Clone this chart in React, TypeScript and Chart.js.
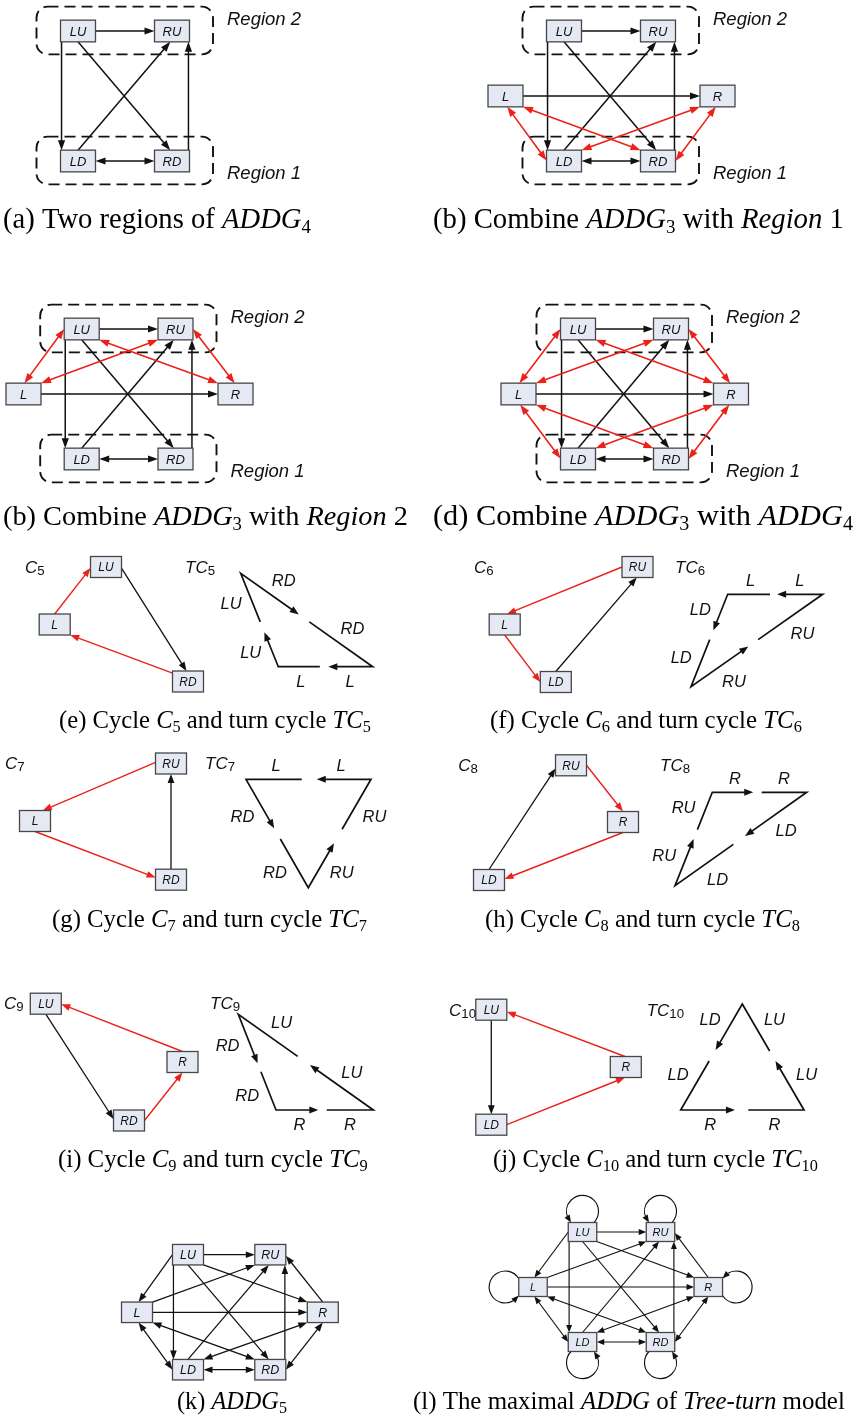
import { useEffect, useRef } from 'react';
import { Chart, registerables } from 'chart.js';

Chart.register(...registerables);

const PAGE_W = 859;
const PAGE_H = 1424;

type NodeRow = [string, number, number];
type Anchor = [number, number];
type EdgeRow = [string, Anchor, string, Anchor, number];
type Pt = [number, number];
type Run = [string, string];

// ---- node centres of every diagram (page units) ----
const nodesA: NodeRow[] = [['LU', 78, 31], ['RU', 172, 31], ['LD', 78, 161], ['RD', 172, 161]];
const nodesB: NodeRow[] = [['LU', 564, 31], ['RU', 658, 31], ['L', 505.5, 96], ['R', 717.5, 96], ['LD', 564, 161], ['RD', 658, 161]];
const nodesC: NodeRow[] = [['LU', 81.7, 329], ['RU', 175.5, 329], ['L', 23.5, 394], ['R', 235.5, 394], ['LD', 81.7, 459], ['RD', 175.5, 459]];
const nodesD: NodeRow[] = [['LU', 578, 329], ['RU', 671, 329], ['L', 518.5, 394], ['R', 731, 394], ['LD', 578, 459], ['RD', 671, 459]];
const nodesE: NodeRow[] = [['LU', 106, 567], ['L', 54.7, 624.5], ['RD', 188, 681.5]];
const nodesF: NodeRow[] = [['RU', 637.5, 567], ['L', 504.7, 624.5], ['LD', 555.8, 682]];
const nodesG: NodeRow[] = [['RU', 171, 763.5], ['L', 35, 821], ['RD', 171, 879.7]];
const nodesH: NodeRow[] = [['RU', 571, 765.3], ['R', 623, 822], ['LD', 489, 880]];
const nodesI: NodeRow[] = [['LU', 45.8, 1003.7], ['R', 182.5, 1062], ['RD', 129, 1120.5]];
const nodesJ: NodeRow[] = [['LU', 491.3, 1009.7], ['R', 625.8, 1067], ['LD', 491.3, 1124.7]];
const nodesK: NodeRow[] = [['LU', 188, 1254.7], ['RU', 270.3, 1254.7], ['L', 137, 1312.3], ['R', 322.8, 1312.3], ['LD', 188, 1369.7], ['RD', 270.3, 1369.7]];
const nodesL: NodeRow[] = [['LU', 582.5, 1232], ['RU', 660.5, 1232], ['L', 533, 1287], ['R', 708.3, 1287], ['LD', 582.5, 1342], ['RD', 660.5, 1342]];

// ---- edges: [from, anchor on from-box, to, anchor on to-box, heads (1 = end, 2 = both)] ----
const addg4Edges: EdgeRow[] = [
  ['LU', [1, 0], 'RU', [-1, 0], 1],
  ['LU', [-0.94, 1], 'LD', [-0.94, -1], 1],
  ['RD', [0.94, -1], 'RU', [0.94, 1], 1],
  ['LU', [0, 1], 'RD', [-0.1, -1], 1],
  ['LD', [0, -1], 'RU', [-0.1, 1], 1],
  ['LD', [1, 0], 'RD', [-1, 0], 2],
];
const lrEdge: EdgeRow[] = [['L', [1, 0], 'R', [-1, 0], 1]];
const region1Links: EdgeRow[] = [
  ['L', [0.1, 1], 'LD', [-1, -0.05], 2],
  ['L', [1, 1], 'RD', [-1, -1], 2],
  ['R', [-1, 1], 'LD', [1, -1], 2],
  ['R', [-0.1, 1], 'RD', [1, 0], 2],
];
const region2Links: EdgeRow[] = [
  ['LU', [-1, 0], 'L', [0.05, -1], 2],
  ['RU', [-1, 1], 'L', [1, -1], 2],
  ['LU', [1, 1], 'R', [-1, -1], 2],
  ['RU', [1, 0], 'R', [-0.05, -1], 2],
];
const addg5Extra: EdgeRow[] = [
  ['LU', [-1, 0], 'L', [0.1, -1], 1],
  ['L', [1, -1], 'RU', [-1, 1], 1],
  ['LU', [1, 1], 'R', [-1, -1], 1],
  ['R', [0, -1], 'RU', [1, 0.1], 1],
  ['L', [0.1, 1], 'LD', [-1, 0], 2],
  ['L', [1, 1], 'RD', [-1, -1], 2],
  ['R', [-1, 1], 'LD', [1, -1], 2],
  ['R', [0, 1], 'RD', [1, 0], 2],
];
const selfLoops: [string, string][] = [['LU', 't'], ['RU', 't'], ['L', 'l'], ['R', 'r'], ['LD', 'b'], ['RD', 'b']];

// cycles C5 .. C10
const c5Red: EdgeRow[] = [['L', [0, -1], 'LU', [-1, 0.1], 1], ['RD', [-1, -0.8], 'L', [1, 1], 1]];
const c5Black: EdgeRow[] = [['LU', [1, 0.1], 'RD', [-0.1, -1], 1]];
const c6Red: EdgeRow[] = [['RU', [-1, 0], 'L', [0.15, -1], 1], ['L', [0, 1], 'LD', [-1, 0], 1]];
const c6Black: EdgeRow[] = [['LD', [0, -1], 'RU', [-0.05, 1], 1]];
const c7Red: EdgeRow[] = [['RU', [-1, -0.1], 'L', [0.5, -1], 1], ['L', [0, 1], 'RD', [-1, -0.2], 1]];
const c7Black: EdgeRow[] = [['RD', [0, -1], 'RU', [0, 1], 1]];
const c8Red: EdgeRow[] = [['RU', [1, 0], 'R', [0, -1], 1], ['R', [0, 1], 'LD', [1, -0.1], 1]];
const c8Black: EdgeRow[] = [['LD', [0, -1], 'RU', [-1, 0.3], 1]];
const c9Red: EdgeRow[] = [['R', [0, -1], 'LU', [1, 0.05], 1], ['RD', [1, 0], 'R', [0, 1], 1]];
const c9Black: EdgeRow[] = [['LU', [0, 1], 'RD', [-1, -0.15], 1]];
const c10Red: EdgeRow[] = [['R', [-0.05, -1], 'LU', [1, 0.2], 1], ['LD', [1, 0], 'R', [-0.05, 1], 1]];
const c10Black: EdgeRow[] = [['LU', [0, 1], 'LD', [0, -1], 1]];

// ---- turn cycles: corners, turn names per side, [arrow end, resume] fractions per side ----
const tc5Corners: Pt[] = [[240.7, 573.3], [372.7, 666.7], [278.3, 666.7]];
const tc5Turns = ['RD', 'L', 'LU'];
const tc5Gaps: Pt[] = [[0.44, 0.52], [0.47, 0.56], [0.37, 0.48]];
const tc6Corners: Pt[] = [[822.7, 594.3], [727.7, 594.3], [691, 686.7]];
const tc6Turns = ['L', 'LD', 'RU'];
const tc6Gaps: Pt[] = [[0.48, 0.555], [0.39, 0.49], [0.435, 0.51]];
const tc7Corners: Pt[] = [[371, 779.3], [246, 779.3], [308.3, 887.7]];
const tc7Turns = ['L', 'RD', 'RU'];
const tc7Gaps: Pt[] = [[0.434, 0.554], [0.452, 0.551], [0.41, 0.539]];
const tc8Corners: Pt[] = [[712.3, 792.3], [806.7, 792.3], [675, 885.7]];
const tc8Turns = ['R', 'LD', 'RU'];
const tc8Gaps: Pt[] = [[0.434, 0.523], [0.468, 0.557], [0.5, 0.6]];
const tc9Corners: Pt[] = [[238.3, 1014.3], [276, 1110], [373.3, 1110]];
const tc9Turns = ['RD', 'R', 'LU'];
const tc9Gaps: Pt[] = [[0.512, 0.6], [0.435, 0.521], [0.469, 0.56]];
const tc10Corners: Pt[] = [[742.3, 1004], [680.7, 1110], [804, 1110]];
const tc10Turns = ['LD', 'R', 'LU'];
const tc10Gaps: Pt[] = [[0.434, 0.538], [0.44, 0.548], [0.462, 0.557]];

// ---- texts ----
const regionUpper = 'Region 2';
const regionLower = 'Region 1';
const captionA: Run[] = [['(a) Two regions of ', 'n'], ['ADDG', 'i'], ['4', 's']];
const captionB: Run[] = [['(b) Combine ', 'n'], ['ADDG', 'i'], ['3', 's'], [' with ', 'n'], ['Region', 'i'], [' 1', 'n']];
const captionC: Run[] = [['(b) Combine ', 'n'], ['ADDG', 'i'], ['3', 's'], [' with ', 'n'], ['Region', 'i'], [' 2', 'n']];
const captionD: Run[] = [['(d) Combine ', 'n'], ['ADDG', 'i'], ['3', 's'], [' with ', 'n'], ['ADDG', 'i'], ['4', 's']];
const captionE: Run[] = [['(e) Cycle ', 'n'], ['C', 'i'], ['5', 's'], [' and turn cycle ', 'n'], ['TC', 'i'], ['5', 's']];
const captionF: Run[] = [['(f) Cycle ', 'n'], ['C', 'i'], ['6', 's'], [' and turn cycle ', 'n'], ['TC', 'i'], ['6', 's']];
const captionG: Run[] = [['(g) Cycle ', 'n'], ['C', 'i'], ['7', 's'], [' and turn cycle ', 'n'], ['TC', 'i'], ['7', 's']];
const captionH: Run[] = [['(h) Cycle ', 'n'], ['C', 'i'], ['8', 's'], [' and turn cycle ', 'n'], ['TC', 'i'], ['8', 's']];
const captionI: Run[] = [['(i) Cycle ', 'n'], ['C', 'i'], ['9', 's'], [' and turn cycle ', 'n'], ['TC', 'i'], ['9', 's']];
const captionJ: Run[] = [['(j) Cycle ', 'n'], ['C', 'i'], ['10', 's'], [' and turn cycle ', 'n'], ['TC', 'i'], ['10', 's']];
const captionK: Run[] = [['(k) ', 'n'], ['ADDG', 'i'], ['5', 's']];
const captionL: Run[] = [['(l) The maximal ', 'n'], ['ADDG', 'i'], [' of ', 'n'], ['Tree-turn', 'i'], [' model', 'n']];

// ---- styles ----
const SANS = "'Liberation Sans', Arial, sans-serif";
const SERIF = "'Liberation Serif', 'Times New Roman', serif";
const INK = '#111111';
const RED = '#ec2119';
const BOX_FILL = '#e5e9f4';
const BOX_STROKE = '#474747';

type Panel = {
  nodes: NodeRow[];
  box: Pt;
  font: number;
  head: Pt;
  lw: number;
  groups: [EdgeRow[], string][];
  regions?: boolean;
  loops?: [string, string][];
};

const big = { box: [35, 21.7] as Pt, font: 13, head: [10, 3.6] as Pt, lw: 1.5, regions: true };
const small = { box: [31, 21] as Pt, font: 12, head: [9, 3.4] as Pt, lw: 1.3 };

const panels: Panel[] = [
  { ...big, nodes: nodesA, groups: [[addg4Edges, INK]] },
  { ...big, nodes: nodesB, groups: [[addg4Edges, INK], [lrEdge, INK], [region1Links, RED]] },
  { ...big, nodes: nodesC, groups: [[addg4Edges, INK], [lrEdge, INK], [region2Links, RED]] },
  { ...big, nodes: nodesD, groups: [[addg4Edges, INK], [lrEdge, INK], [region1Links, RED], [region2Links, RED]] },
  { ...small, nodes: nodesE, groups: [[c5Black, INK], [c5Red, RED]] },
  { ...small, nodes: nodesF, groups: [[c6Black, INK], [c6Red, RED]] },
  { ...small, nodes: nodesG, groups: [[c7Black, INK], [c7Red, RED]] },
  { ...small, nodes: nodesH, groups: [[c8Black, INK], [c8Red, RED]] },
  { ...small, nodes: nodesI, groups: [[c9Black, INK], [c9Red, RED]] },
  { ...small, nodes: nodesJ, groups: [[c10Black, INK], [c10Red, RED]] },
  { box: [31, 20.5], font: 12.5, head: [9, 3.3], lw: 1.25, nodes: nodesK, groups: [[addg4Edges, INK], [lrEdge, INK], [addg5Extra, INK]] },
  { box: [28.5, 19], font: 11, head: [7.5, 3], lw: 1.15, nodes: nodesL, groups: [[addg4Edges, INK], [lrEdge, INK], [addg5Extra, INK]], loops: selfLoops },
];

const turnCycles: [Pt[], string[], Pt[]][] = [
  [tc5Corners, tc5Turns, tc5Gaps],
  [tc6Corners, tc6Turns, tc6Gaps],
  [tc7Corners, tc7Turns, tc7Gaps],
  [tc8Corners, tc8Turns, tc8Gaps],
  [tc9Corners, tc9Turns, tc9Gaps],
  [tc10Corners, tc10Turns, tc10Gaps],
];

// cycle names: runs, left x, centre y
const cycleNames: [Run[], number, number][] = [
  [[['C', 'i'], ['5', 's']], 25, 566.7],
  [[['TC', 'i'], ['5', 's']], 185, 566.7],
  [[['C', 'i'], ['6', 's']], 474, 566.7],
  [[['TC', 'i'], ['6', 's']], 675, 566.7],
  [[['C', 'i'], ['7', 's']], 5, 763.3],
  [[['TC', 'i'], ['7', 's']], 205, 763.3],
  [[['C', 'i'], ['8', 's']], 458.3, 765],
  [[['TC', 'i'], ['8', 's']], 660, 765],
  [[['C', 'i'], ['9', 's']], 4, 1003.3],
  [[['TC', 'i'], ['9', 's']], 210, 1003.3],
  [[['C', 'i'], ['10', 's']], 449, 1010],
  [[['TC', 'i'], ['10', 's']], 646.7, 1010],
];

// captions: runs, left, right, baseline
const captions: [Run[], number, number, number][] = [
  [captionA, 3, 311, 228],
  [captionB, 433, 844, 228],
  [captionC, 3, 408, 525],
  [captionD, 433, 853, 525],
  [captionE, 59, 371, 728],
  [captionF, 490, 802, 728],
  [captionG, 52, 367, 927],
  [captionH, 485, 800, 927],
  [captionI, 58, 368, 1167],
  [captionJ, 493, 818, 1167],
  [captionK, 177, 287, 1409],
  [captionL, 413, 845, 1409],
];

type Ctx = CanvasRenderingContext2D;

function runFont(kind: string, size: number, family: string, subScale: number) {
  if (kind === 'i') return `italic ${size}px ${family}`;
  if (kind === 's') return `${size * subScale}px ${family}`;
  return `${size}px ${family}`;
}

function measureRuns(ctx: Ctx, runs: Run[], size: number, family: string, subScale: number) {
  let w = 0;
  for (const [t, k] of runs) {
    ctx.font = runFont(k, size, family, subScale);
    w += ctx.measureText(t).width;
  }
  return w;
}

function drawRuns(ctx: Ctx, runs: Run[], x: number, y: number, size: number, family: string, subScale: number, subDrop: number) {
  let cx = x;
  ctx.textAlign = 'left';
  ctx.textBaseline = 'alphabetic';
  for (const [t, k] of runs) {
    ctx.font = runFont(k, size, family, subScale);
    ctx.fillText(t, cx, y + (k === 's' ? size * subDrop : 0));
    cx += ctx.measureText(t).width;
  }
}

function arrowHead(ctx: Ctx, tip: Pt, ux: number, uy: number, len: number, hw: number) {
  const bx = tip[0] - ux * len;
  const by = tip[1] - uy * len;
  ctx.beginPath();
  ctx.moveTo(tip[0], tip[1]);
  ctx.lineTo(bx - uy * hw, by + ux * hw);
  ctx.lineTo(bx + uy * hw, by - ux * hw);
  ctx.closePath();
  ctx.fill();
}

function drawEdge(ctx: Ctx, p0: Pt, p1: Pt, heads: number, color: string, lw: number, head: Pt) {
  const dx = p1[0] - p0[0];
  const dy = p1[1] - p0[1];
  const L = Math.hypot(dx, dy) || 1;
  const ux = dx / L;
  const uy = dy / L;
  const cut = head[0] * 0.75;
  const s = heads === 2 ? cut : 0;
  ctx.strokeStyle = color;
  ctx.fillStyle = color;
  ctx.lineWidth = lw;
  ctx.beginPath();
  ctx.moveTo(p0[0] + ux * s, p0[1] + uy * s);
  ctx.lineTo(p1[0] - ux * cut, p1[1] - uy * cut);
  ctx.stroke();
  arrowHead(ctx, p1, ux, uy, head[0], head[1]);
  if (heads === 2) arrowHead(ctx, p0, -ux, -uy, head[0], head[1]);
}

function drawPanel(ctx: Ctx, X: (v: number) => number, Y: (v: number) => number, p: Panel) {
  const pos: Record<string, Pt> = {};
  for (const [n, x, y] of p.nodes) pos[n] = [x, y];
  const [bw, bh] = p.box;
  const anchor = (n: string, a: Anchor): Pt => [X(pos[n][0] + (a[0] * bw) / 2), Y(pos[n][1] + (a[1] * bh) / 2)];

  if (p.regions) {
    const regs: [string[], string, boolean][] = [[['LU', 'RU'], regionUpper, true], [['LD', 'RD'], regionLower, false]];
    for (const [pair, label, upper] of regs) {
      const xs = pair.map((n) => pos[n][0]);
      const ys = pair.map((n) => pos[n][1]);
      const x0 = X(Math.min(...xs) - bw / 2 - 24);
      const x1 = X(Math.max(...xs) + bw / 2 + 23.5);
      const y0 = Y(Math.min(...ys) - bh / 2 - 13.5);
      const y1 = Y(Math.max(...ys) + bh / 2 + 12.5);
      ctx.save();
      ctx.setLineDash([11, 6]);
      ctx.lineWidth = 1.9;
      ctx.strokeStyle = '#111';
      ctx.beginPath();
      ctx.roundRect(x0, y0, x1 - x0, y1 - y0, 11);
      ctx.stroke();
      ctx.restore();
      ctx.fillStyle = '#111';
      ctx.font = `italic 18.5px ${SANS}`;
      ctx.textAlign = 'left';
      ctx.textBaseline = 'alphabetic';
      ctx.fillText(label, x1 + 14, upper ? y0 + 18 : y1 - 5.5);
    }
  }

  for (const [edges, color] of p.groups) {
    for (const [a, aa, b, ba, heads] of edges) {
      drawEdge(ctx, anchor(a, aa), anchor(b, ba), heads, color, color === RED ? p.lw + 0.1 : p.lw, p.head);
    }
  }

  if (p.loops) {
    const r = 16;
    const normals: Record<string, number> = { t: -90, b: 90, l: 180, r: 0 };
    for (const [n, side] of p.loops) {
      const th = (normals[side] * Math.PI) / 180;
      const nx = Math.cos(th);
      const ny = Math.sin(th);
      const vertical = side === 't' || side === 'b';
      const half = vertical ? bh / 2 : bw / 2;
      // half-distance between the two points where the loop meets the box
      const attach = vertical ? 11.5 : 8.5;
      const off = Math.sqrt(r * r - attach * attach);
      const cx = X(pos[n][0] + nx * (half + off));
      const cy = Y(pos[n][1] + ny * (half + off));
      const spread = Math.asin(attach / r);
      const start = th + Math.PI - spread;
      const end = th + Math.PI + spread;
      const d = (p.head[0] * 0.8) / r;
      ctx.strokeStyle = INK;
      ctx.fillStyle = INK;
      ctx.lineWidth = p.lw;
      ctx.beginPath();
      ctx.arc(cx, cy, r, start, end + d, true);
      ctx.stroke();
      const tip: Pt = [cx + r * Math.cos(end), cy + r * Math.sin(end)];
      const from: Pt = [cx + r * Math.cos(end + d * 1.2), cy + r * Math.sin(end + d * 1.2)];
      const L = Math.hypot(tip[0] - from[0], tip[1] - from[1]);
      arrowHead(ctx, tip, (tip[0] - from[0]) / L, (tip[1] - from[1]) / L, p.head[0], p.head[1]);
    }
  }

  for (const [n, x, y] of p.nodes) {
    const x0 = X(x - bw / 2);
    const y0 = Y(y - bh / 2);
    const w = X(x + bw / 2) - x0;
    const h = Y(y + bh / 2) - y0;
    ctx.fillStyle = BOX_FILL;
    ctx.fillRect(x0, y0, w, h);
    ctx.strokeStyle = BOX_STROKE;
    ctx.lineWidth = 1.3;
    ctx.strokeRect(x0, y0, w, h);
    ctx.fillStyle = '#111';
    ctx.font = `italic ${p.font}px ${SANS}`;
    ctx.textAlign = 'center';
    ctx.textBaseline = 'alphabetic';
    ctx.fillText(n, X(x), Y(y) + p.font * 0.36);
  }
}

function drawTurnCycle(ctx: Ctx, X: (v: number) => number, Y: (v: number) => number, tc: [Pt[], string[], Pt[]]) {
  const [corners, turns, gaps] = tc;
  const pts: Pt[] = corners.map(([x, y]) => [X(x), Y(y)]);
  const at = (i: number, t: number): Pt => {
    const a = pts[i];
    const b = pts[(i + 1) % 3];
    return [a[0] + (b[0] - a[0]) * t, a[1] + (b[1] - a[1]) * t];
  };
  const headLen = 9;
  const headW = 3.5;
  ctx.strokeStyle = INK;
  ctx.fillStyle = INK;
  ctx.lineWidth = 1.7;
  ctx.lineJoin = 'miter';
  for (let i = 0; i < 3; i++) {
    const prev = (i + 2) % 3;
    const a = pts[i];
    const b = pts[(i + 1) % 3];
    const L = Math.hypot(b[0] - a[0], b[1] - a[1]);
    const ux = (b[0] - a[0]) / L;
    const uy = (b[1] - a[1]) / L;
    const resume = at(prev, gaps[prev][1]);
    const tip = at(i, gaps[i][0]);
    ctx.beginPath();
    ctx.moveTo(resume[0], resume[1]);
    ctx.lineTo(a[0], a[1]);
    ctx.lineTo(tip[0] - ux * headLen * 0.7, tip[1] - uy * headLen * 0.7);
    ctx.stroke();
    arrowHead(ctx, tip, ux, uy, headLen, headW);
  }
  const gx = (pts[0][0] + pts[1][0] + pts[2][0]) / 3;
  const gy = (pts[0][1] + pts[1][1] + pts[2][1]) / 3;
  const size = 16.5;
  ctx.font = `italic ${size}px ${SANS}`;
  ctx.textAlign = 'center';
  ctx.textBaseline = 'alphabetic';
  for (let i = 0; i < 3; i++) {
    const a = pts[i];
    const b = pts[(i + 1) % 3];
    const L = Math.hypot(b[0] - a[0], b[1] - a[1]);
    let nx = -(b[1] - a[1]) / L;
    let ny = (b[0] - a[0]) / L;
    const mx = (a[0] + b[0]) / 2;
    const my = (a[1] + b[1]) / 2;
    if (nx * (mx - gx) + ny * (my - gy) < 0) {
      nx = -nx;
      ny = -ny;
    }
    const w = ctx.measureText(turns[i]).width;
    const d = 8 + Math.abs(nx) * (w / 2) + Math.abs(ny) * size * 0.36;
    for (const t of [0.24, 0.76]) {
      const q = at(i, t);
      ctx.fillText(turns[i], q[0] + nx * d, q[1] + ny * d + size * 0.36);
    }
  }
}

const diagramPlugin = {
  id: 'diagram',
  afterDraw(chart: any) {
    const ctx: Ctx = chart.ctx;
    const X = (v: number) => chart.scales.x.getPixelForValue(v);
    const Y = (v: number) => chart.scales.y.getPixelForValue(v);
    ctx.save();
    ctx.lineCap = 'butt';
    for (const p of panels) drawPanel(ctx, X, Y, p);
    for (const tc of turnCycles) drawTurnCycle(ctx, X, Y, tc);
    ctx.fillStyle = '#111';
    for (const [runs, x, cy] of cycleNames) {
      drawRuns(ctx, runs, X(x), Y(cy) + 17 * 0.36, 17, SANS, 0.78, 0.1);
    }
    for (const [runs, left, right, base] of captions) {
      const ref = 28;
      const w = measureRuns(ctx, runs, ref, SERIF, 0.66);
      const size = (ref * (X(right) - X(left))) / w;
      ctx.fillStyle = '#000';
      drawRuns(ctx, runs, X(left), Y(base), size, SERIF, 0.66, 0.17);
    }
    ctx.restore();
  },
};

const allNodes: NodeRow[] = [
  ...nodesA, ...nodesB, ...nodesC, ...nodesD, ...nodesE, ...nodesF,
  ...nodesG, ...nodesH, ...nodesI, ...nodesJ, ...nodesK, ...nodesL,
];

export default function App() {
  const ref = useRef<HTMLCanvasElement>(null);
  useEffect(() => {
    document.body.style.margin = '0';
    const canvas = ref.current;
    if (!canvas) return;
    const chart = new Chart(canvas, {
      type: 'scatter',
      data: {
        datasets: [
          {
            data: allNodes.map(([, x, y]) => ({ x, y })),
            pointRadius: 0,
            pointHoverRadius: 0,
          },
        ],
      },
      options: {
        animation: false,
        responsive: true,
        maintainAspectRatio: false,
        events: [],
        layout: { padding: 0 },
        plugins: { legend: { display: false }, tooltip: { enabled: false } },
        scales: {
          x: { type: 'linear', min: 0, max: PAGE_W, display: false },
          y: { type: 'linear', min: 0, max: PAGE_H, reverse: true, display: false },
        },
      },
      plugins: [diagramPlugin],
    });
    return () => chart.destroy();
  }, []);
  return (
    <div style={{ position: 'relative', width: PAGE_W, height: PAGE_H, background: '#fff' }}>
      <canvas ref={ref} style={{ display: 'block' }} />
    </div>
  );
}
